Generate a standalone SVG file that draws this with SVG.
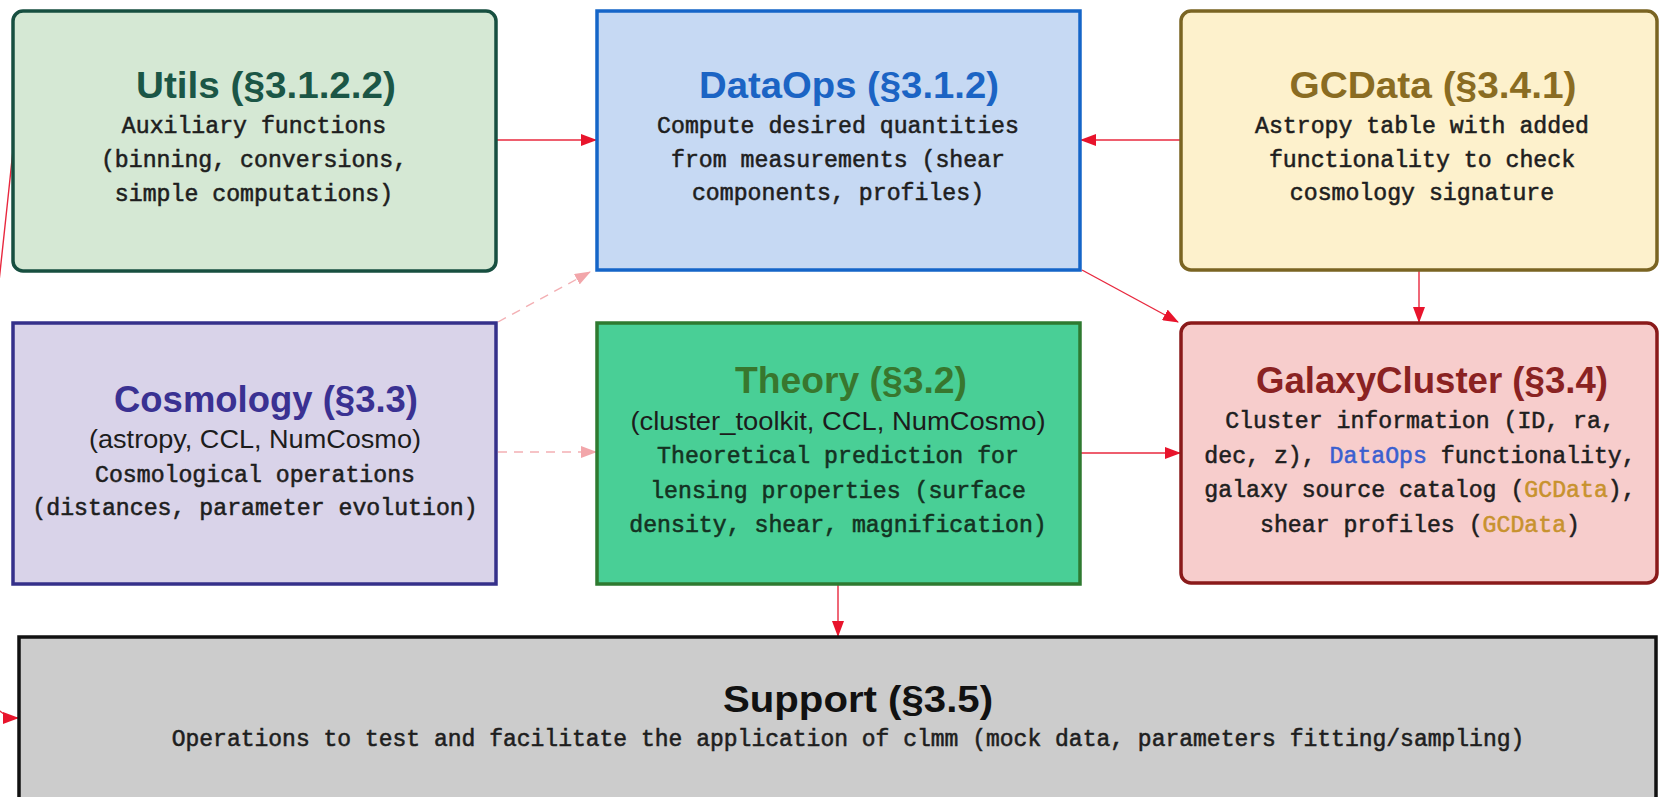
<svg xmlns="http://www.w3.org/2000/svg" width="1660" height="797" viewBox="0 0 1660 797">
<defs>
<marker id="ah" viewBox="0 0 16 12" refX="15" refY="6" markerWidth="16" markerHeight="12" markerUnits="userSpaceOnUse" orient="auto">
<path d="M0,0 L16,6 L0,12 z" fill="#e8142c"/>
</marker>
<marker id="ahd" viewBox="0 0 16 12" refX="15" refY="6" markerWidth="16" markerHeight="12" markerUnits="userSpaceOnUse" orient="auto">
<path d="M0,0 L16,6 L0,12 z" fill="#f2a6aa"/>
</marker>
<style>
.t{font-family:"Liberation Sans",Arial,sans-serif;font-weight:bold;text-anchor:middle}
.s{font-family:"Liberation Sans",Arial,sans-serif;font-size:26px;text-anchor:middle;fill:#1c1c1c}
.m{font-family:"Liberation Mono","Courier New",monospace;font-size:23.2px;text-anchor:middle;fill:#1e1e1e;stroke:#1e1e1e;stroke-width:0.55}
.c{fill:none;stroke:#e8283e;stroke-width:1.4}
.d{fill:none;stroke:#f3b0b4;stroke-width:1.4;stroke-dasharray:9 7}
</style>
</defs>
<rect width="1660" height="797" fill="#ffffff"/>
<g id="connectors">
<path class="c" d="M496 140 L596 140" marker-end="url(#ah)"/>
<path class="c" d="M1181 140 L1081 140" marker-end="url(#ah)"/>
<path class="c" d="M1082 270 L1178 322" marker-end="url(#ah)"/>
<path class="c" d="M1419 271 L1419 322" marker-end="url(#ah)"/>
<path class="d" d="M498 322 L590 272" marker-end="url(#ahd)"/>
<path class="d" d="M498 452 L596 452" marker-end="url(#ahd)"/>
<path class="c" d="M1080 453 L1180 453" marker-end="url(#ah)"/>
<path class="c" d="M838 585 L838 636" marker-end="url(#ah)"/>
<path class="c" d="M14 140 C -14 420, -60 718, 18 718" marker-end="url(#ah)"/>
</g>
<g id="utils">
<rect x="13" y="11" width="483" height="260" rx="10" fill="#d5e8d4" stroke="#174f40" stroke-width="3.5"/>
<text class="t" x="266" y="98" font-size="37" fill="#1b5646" textLength="260" lengthAdjust="spacingAndGlyphs">Utils (§3.1.2.2)</text>
<text class="m" x="254" y="133">Auxiliary functions</text>
<text class="m" x="254" y="167">(binning, conversions,</text>
<text class="m" x="254" y="201">simple computations)</text>
</g>
<g id="dataops">
<rect x="597" y="11" width="483" height="259" fill="#c6d9f3" stroke="#1565c8" stroke-width="3.5"/>
<text class="t" x="849" y="98" font-size="37" fill="#1b64c4" textLength="300" lengthAdjust="spacingAndGlyphs">DataOps (§3.1.2)</text>
<text class="m" x="838" y="133">Compute desired quantities</text>
<text class="m" x="838" y="167">from measurements (shear</text>
<text class="m" x="838" y="200">components, profiles)</text>
</g>
<g id="gcdata">
<rect x="1181" y="11" width="476" height="259" rx="10" fill="#fdf1cc" stroke="#7a6422" stroke-width="3.5"/>
<text class="t" x="1433" y="98" font-size="37" fill="#8a6c22" textLength="287" lengthAdjust="spacingAndGlyphs">GCData (§3.4.1)</text>
<text class="m" x="1422" y="133">Astropy table with added</text>
<text class="m" x="1422" y="167">functionality to check</text>
<text class="m" x="1422" y="200">cosmology signature</text>
</g>
<g id="cosmology">
<rect x="13" y="323" width="483" height="261" fill="#d9d3e9" stroke="#35308a" stroke-width="3.5"/>
<text class="t" x="266" y="412" font-size="36" fill="#3a3192" textLength="304" lengthAdjust="spacingAndGlyphs">Cosmology (§3.3)</text>
<text class="s" x="255" y="448" textLength="332" lengthAdjust="spacingAndGlyphs">(astropy, CCL, NumCosmo)</text>
<text class="m" x="255" y="482">Cosmological operations</text>
<text class="m" x="255" y="515">(distances, parameter evolution)</text>
</g>
<g id="theory">
<rect x="597" y="323" width="483" height="261" fill="#49cf96" stroke="#2e7a30" stroke-width="3.5"/>
<text class="t" x="851" y="393" font-size="36" fill="#38772e" textLength="232" lengthAdjust="spacingAndGlyphs">Theory (§3.2)</text>
<text class="s" x="838" y="430" fill="#123a22" textLength="415" lengthAdjust="spacingAndGlyphs">(cluster_toolkit, CCL, NumCosmo)</text>
<text class="m" x="838" y="463" style="fill:#143222;stroke:#143222">Theoretical prediction for</text>
<text class="m" x="838" y="498" style="fill:#143222;stroke:#143222">lensing properties (surface</text>
<text class="m" x="838" y="532" style="fill:#143222;stroke:#143222">density, shear, magnification)</text>
</g>
<g id="galaxycluster">
<rect x="1181" y="323" width="476" height="260" rx="10" fill="#f7cdcc" stroke="#8a1a1a" stroke-width="3.5"/>
<text class="t" x="1432" y="393" font-size="36" fill="#8a2222" textLength="352" lengthAdjust="spacingAndGlyphs">GalaxyCluster (§3.4)</text>
<text class="m" x="1420" y="428">Cluster information (ID, ra,</text>
<text class="m" x="1420" y="463">dec, z), <tspan style="fill:#3a5fd0;stroke:#3a5fd0">DataOps</tspan> functionality,</text>
<text class="m" x="1420" y="497">galaxy source catalog (<tspan style="fill:#c8922e;stroke:#c8922e">GCData</tspan>),</text>
<text class="m" x="1420" y="532">shear profiles (<tspan style="fill:#c8922e;stroke:#c8922e">GCData</tspan>)</text>
</g>
<g id="support">
<rect x="19" y="637" width="1637" height="180" fill="#cccccc" stroke="#111111" stroke-width="3.5"/>
<text class="t" x="858" y="712" font-size="36" fill="#111111" textLength="270" lengthAdjust="spacingAndGlyphs">Support (§3.5)</text>
<text class="m" x="848" y="746" style="font-size:23px">Operations to test and facilitate the application of clmm (mock data, parameters fitting/sampling)</text>
</g>
</svg>
